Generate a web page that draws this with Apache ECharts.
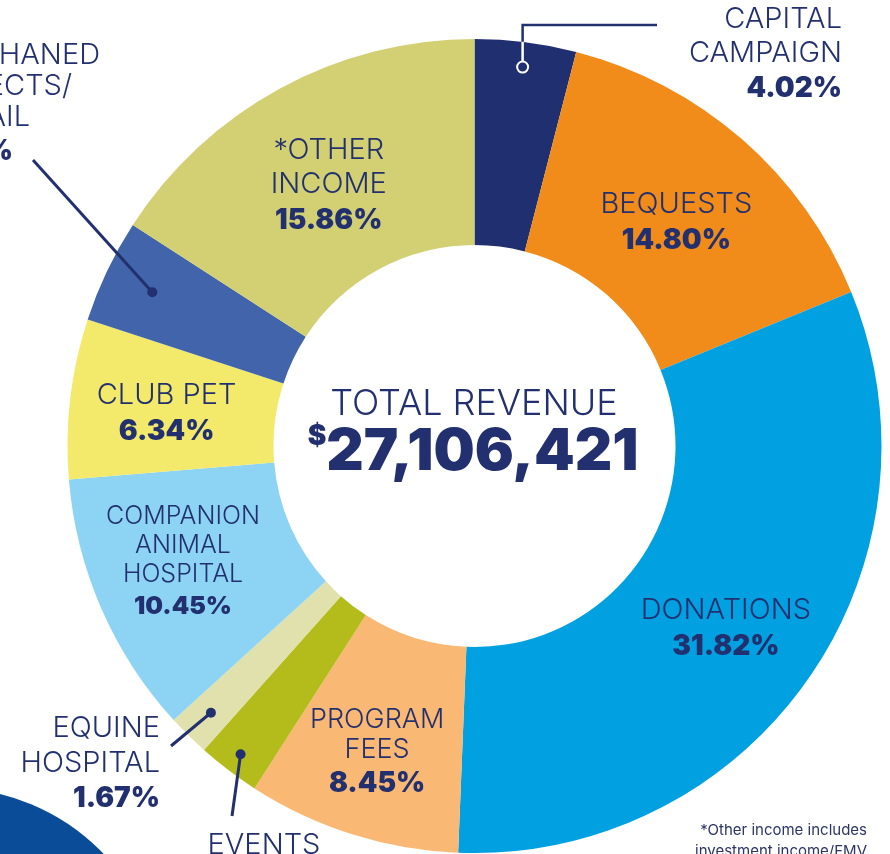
<!DOCTYPE html>
<html>
<head>
<meta charset="utf-8">
<script src="https://cdn.jsdelivr.net/npm/echarts@6/dist/echarts.min.js"></script>
<style>
html, body { margin: 0; padding: 0; background: #fff; }
#chart { width: 890px; height: 854px; }
</style>
</head>
<body>
<div id="chart"></div>
<script>
var names = ['CAPITAL\nCAMPAIGN', 'BEQUESTS', 'DONATIONS', 'PROGRAM\nFEES', 'EVENTS',
             'EQUINE\nHOSPITAL', 'COMPANION\nANIMAL\nHOSPITAL', 'CLUB PET',
             'ORPHANED\nPROJECTS/\nEMAIL', '*OTHER\nINCOME'];
var shares = [4.02, 14.80, 31.82, 8.45, 2.48, 1.67, 10.45, 6.34, 4.11, 15.86];
var colors = ['#202f6f', '#f18c1b', '#00a0e1', '#f9b874', '#b4bc1c',
              '#e1e1ad', '#8dd3f3', '#f3e96b', '#4264aa', '#d2d073'];
var totalLabel = 'TOTAL REVENUE';
var totalValue = '27,106,421';
var footnote = ['*Other income includes', 'investment income/FMV'];

var navy = '#22306f';
var font = 'Inter';
var cx = 474.5, cy = 446, r0 = 201, r1 = 407;

// labels drawn outside with callout lines
var outside = [0, 4, 5, 8];
// small nudges for inside labels
var nudge = { 1: [0, 9], 2: [0, 7], 3: [-5, 15], 6: [-10, -6], 7: [-3, 4], 9: [1, 10] };
var smallNames = { 3: 'm', 6: 's' };

var total = shares.reduce(function (a, b) { return a + b; }, 0);
function midPoint(i, r) {
    var before = 0;
    for (var k = 0; k < i; k++) before += shares[k];
    var a = (before + shares[i] / 2) / total * Math.PI * 2;
    return [cx + r * Math.sin(a), cy - r * Math.cos(a)];
}
function pct(i) { return shares[i].toFixed(2) + '%'; }

function makeRich(key) {
    var base = {
        n: { fontSize: 29, fontWeight: 300, lineHeight: 34 },
        m: { fontSize: 27, fontWeight: 300, lineHeight: 30 },
        s: { fontSize: 25, fontWeight: 300, lineHeight: 29 },
        p: { fontSize: 28, fontWeight: 900, lineHeight: 38 },
        ps: { fontSize: 25, fontWeight: 900, lineHeight: 34 }
    };
    Object.keys(base).forEach(function (k) {
        base[k].fontFamily = font;
        base[k][key] = navy;
    });
    return base;
}
var labelRich = makeRich('color');
var graphicRich = makeRich('fill');

function richText(i) {
    var st = smallNames[i] || 'n';
    var lines = names[i].split('\n').map(function (l) { return '{' + st + '|' + l + '}'; });
    lines.push('{' + (st === 's' ? 'ps' : 'p') + '|' + pct(i) + '}');
    return lines.join('\n');
}

var data = names.map(function (n, i) {
    var item = { name: n, value: shares[i], itemStyle: { color: colors[i] } };
    if (outside.indexOf(i) >= 0) item.label = { show: false };
    return item;
});

var graphics = [];

// decorative circle bottom-left
graphics.push({ type: 'circle', shape: { cx: -50, cy: 1000, r: 212 }, style: { fill: '#0a4c97' }, z: 1 });

// centre total
graphics.push({
    type: 'text', x: 474, y: 404, z: 10,
    style: { text: totalLabel, fontFamily: font, fontSize: 36, fontWeight: 300, fill: navy,
             textAlign: 'center', textVerticalAlign: 'middle' }
});
graphics.push({
    type: 'text', x: 473, y: 423, z: 10,
    style: {
        text: '{d|$}{v|' + totalValue + '}', textAlign: 'center', textVerticalAlign: 'top',
        rich: {
            d: { fontFamily: font, fontSize: 28, fontWeight: 900, fill: navy, verticalAlign: 'top', lineHeight: 28 },
            v: { fontFamily: font, fontSize: 58, fontWeight: 900, fill: navy, lineHeight: 60 }
        }
    }
});

// callout: capital campaign
var capDot = midPoint(0, 382);
var capEdge = cy - Math.sqrt(r1 * r1 - Math.pow(capDot[0] - cx, 2));
graphics.push({ type: 'polyline', z: 10, shape: { points: [[capDot[0], capDot[1]], [capDot[0], capEdge]] },
    style: { stroke: '#fff', lineWidth: 2.5, fill: null } });
graphics.push({ type: 'polyline', z: 10, shape: { points: [[capDot[0], capEdge], [capDot[0], 25], [657, 25]] },
    style: { stroke: navy, lineWidth: 2.5, fill: null } });
graphics.push({ type: 'circle', z: 11, shape: { cx: capDot[0], cy: capDot[1], r: 5.5 },
    style: { fill: navy, stroke: '#fff', lineWidth: 2 } });
graphics.push({ type: 'text', x: 842, y: 2, z: 10,
    style: { text: richText(0), rich: graphicRich, textAlign: 'right', textVerticalAlign: 'top' } });

// callout: events
var evDot = midPoint(4, 387);
graphics.push({ type: 'polyline', z: 10, shape: { points: [evDot, [232, 816]] },
    style: { stroke: navy, lineWidth: 3, fill: null } });
graphics.push({ type: 'circle', z: 11, shape: { cx: evDot[0], cy: evDot[1], r: 5 }, style: { fill: navy } });
graphics.push({ type: 'text', x: 264, y: 828, z: 10,
    style: { text: richText(4), rich: graphicRich, textAlign: 'center', textVerticalAlign: 'top' } });

// callout: equine hospital
var eqDot = midPoint(5, 375);
graphics.push({ type: 'polyline', z: 10, shape: { points: [[171, 746], eqDot] },
    style: { stroke: navy, lineWidth: 3, fill: null } });
graphics.push({ type: 'circle', z: 11, shape: { cx: eqDot[0], cy: eqDot[1], r: 5 }, style: { fill: navy } });
graphics.push({ type: 'text', x: 160, y: 711, z: 10,
    style: { text: '{n|EQUINE}\n{n|HOSPITAL}\n{p|' + pct(5) + '}',
             rich: { n: { fontFamily: font, fontSize: 29, fontWeight: 300, fill: navy, lineHeight: 35 },
                     p: { fontFamily: font, fontSize: 28, fontWeight: 900, fill: navy, lineHeight: 35 } },
             textAlign: 'right', textVerticalAlign: 'top' } });

// callout: orphaned projects (cut off at left edge)
var orDot = midPoint(8, 357);
graphics.push({ type: 'polyline', z: 10, shape: { points: [[33, 160], orDot] },
    style: { stroke: navy, lineWidth: 3, fill: null } });
graphics.push({ type: 'circle', z: 11, shape: { cx: orDot[0], cy: orDot[1], r: 5 }, style: { fill: navy } });
var orLines = names[8].split('\n').concat([pct(8)]);
var orRight = [100, 72, 30, 13];
var orY = [55, 86, 117, 152];
orLines.forEach(function (l, k) {
    graphics.push({ type: 'text', x: orRight[k], y: orY[k], z: 10,
        style: { text: l, fontFamily: font, fontSize: k === 3 ? 28 : 29, fontWeight: k === 3 ? 900 : 300, fill: navy,
                 textAlign: 'right', textVerticalAlign: 'middle' } });
});

// footnote
footnote.forEach(function (l, k) {
    graphics.push({ type: 'text', x: 867, y: 830 + k * 21, z: 10,
        style: { text: l, fontFamily: font, fontSize: 15, fill: '#2b3566',
                 textAlign: 'right', textVerticalAlign: 'middle' } });
});

var chart = echarts.init(document.getElementById('chart'));
chart.setOption({
    animation: false,
    backgroundColor: '#fff',
    graphic: graphics,
    series: [{
        type: 'pie',
        center: [cx, cy],
        radius: [r0, r1],
        startAngle: 90,
        clockwise: true,
        silent: true,
        label: {
            show: true,
            position: 'inside',
            formatter: function (p) { return richText(p.dataIndex); },
            rich: labelRich
        },
        labelLine: { show: false },
        labelLayout: function (params) {
            var d = nudge[params.dataIndex];
            if (!d) return {};
            return { dx: d[0], dy: d[1] };
        },
        data: data
    }]
});
</script>
</body>
</html>
